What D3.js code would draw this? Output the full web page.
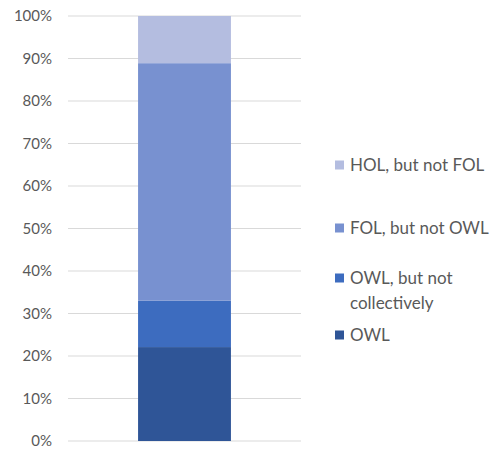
<!DOCTYPE html>
<html>
<head>
<meta charset="utf-8">
<script src="https://cdn.jsdelivr.net/npm/d3@7"></script>
<style>
  body { margin: 0; background: #fff; }
  text { font-family: Lato, "Open Sans", sans-serif; }
</style>
</head>
<body>
<div id="chart"></div>
<script>
// Data (percent of the single stacked bar, bottom to top)
const categories = ["All"];
const seriesNames = ["OWL", "OWL, but not collectively", "FOL, but not OWL", "HOL, but not FOL"];
const seriesValues = [22.1, 10.9, 55.9, 11.1];
const seriesColors = ["#2f5597", "#3d6cbf", "#7891d0", "#b4bde0"];
const yTicks = [0, 10, 20, 30, 40, 50, 60, 70, 80, 90, 100];

const svgWidth = 496;
const svgHeight = 451;

const svg = d3.select("#chart")
  .append("svg")
  .attr("width", svgWidth)
  .attr("height", svgHeight);

// plot area
const plot = { left: 68, right: 301, top: 16, bottom: 441 };

const xScale = d3.scaleBand()
  .domain(categories)
  .range([plot.left, plot.right])
  .padding(0.43);

const yScale = d3.scaleLinear()
  .domain([0, 100])
  .range([plot.bottom, plot.top]);

// gridlines
svg.append("g")
  .selectAll("line")
  .data(yTicks)
  .join("line")
  .attr("x1", plot.left)
  .attr("x2", plot.right)
  .attr("y1", d => yScale(d))
  .attr("y2", d => yScale(d))
  .attr("stroke", "#d9d9d9")
  .attr("stroke-width", 1);

// y axis labels
const leftAxis = d3.axisLeft(yScale)
  .tickValues(yTicks)
  .tickFormat(d => d + "%")
  .tickSize(0)
  .tickPadding(16);

const yAxis = svg.append("g")
  .attr("transform", `translate(${plot.left}, 0)`)
  .call(leftAxis);
yAxis.select(".domain").remove();
yAxis.selectAll("text")
  .attr("fill", "#595959")
  .style("font-size", "15px")
  .style("font-family", "Lato, sans-serif");

// stack the series
const row = { cat: categories[0] };
seriesNames.forEach((n, i) => { row[n] = seriesValues[i]; });
const stacked = d3.stack().keys(seriesNames)([row]);

svg.append("g")
  .selectAll("rect")
  .data(stacked)
  .join("rect")
  .attr("x", d => xScale(d[0].data.cat))
  .attr("width", xScale.bandwidth())
  .attr("y", d => yScale(d[0][1]))
  .attr("height", d => yScale(d[0][0]) - yScale(d[0][1]))
  .attr("fill", (d, i) => seriesColors[i]);

// legend (top to bottom, reverse order)
const legendItems = [
  { lines: ["HOL, but not FOL"], color: seriesColors[3], y: 165 },
  { lines: ["FOL, but not OWL"], color: seriesColors[2], y: 228 },
  { lines: ["OWL, but not", "collectively"], color: seriesColors[1], y: 278 },
  { lines: ["OWL"], color: seriesColors[0], y: 335 }
];

const legend = svg.append("g");
const items = legend.selectAll("g")
  .data(legendItems)
  .join("g")
  .attr("transform", d => `translate(335, ${d.y})`);

items.append("rect")
  .attr("x", 0)
  .attr("y", -4.5)
  .attr("width", 9)
  .attr("height", 9)
  .attr("fill", d => d.color);

items.append("text")
  .attr("fill", "#595959")
  .style("font-size", "17px")
  .selectAll("tspan")
  .data(d => d.lines)
  .join("tspan")
  .attr("x", 15)
  .attr("y", (d, i) => i * 25)
  .attr("dy", "0.35em")
  .text(d => d);
</script>
</body>
</html>
